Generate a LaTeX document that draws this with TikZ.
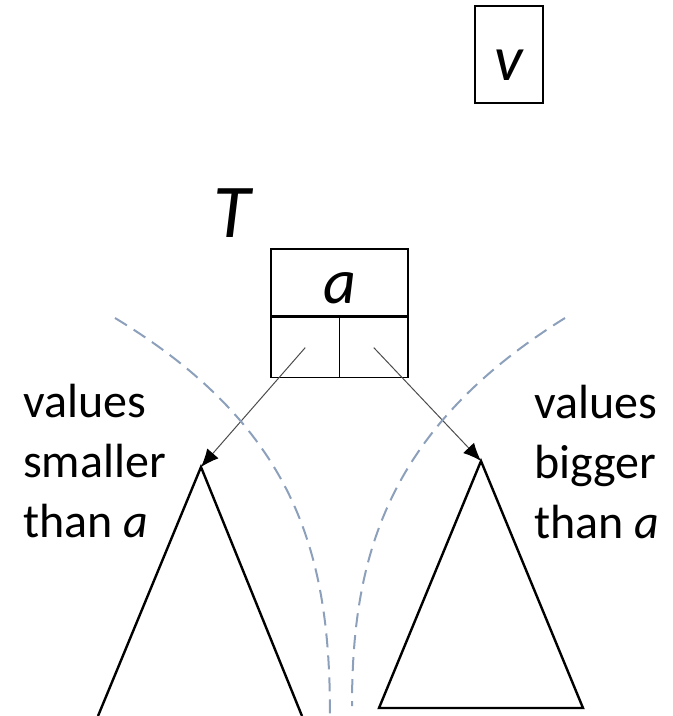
\documentclass[tikz,border=0pt]{standalone}
\usepackage{fontspec}
\setmainfont{Carlito}
\usetikzlibrary{positioning, arrows.meta}
\definecolor{sepgray}{RGB}{140,160,188}

\begin{document}
\begin{tikzpicture}[x=1pt, y=-1pt, font=\fontsize{48}{60}\selectfont,
        cell/.style={draw, line width=1.6pt, inner sep=0pt},
        link/.style={draw=black!70, line width=1pt, -{Latex[length=18pt, width=15pt, color=black]}},
        subtree/.style={draw, line width=2.4pt},
        split/.style={draw=sepgray, line width=2pt, dash pattern=on 14pt off 8pt}]
        \useasboundingbox (0,0) rectangle (673,716);

        % new value and the tree
        \node[cell, minimum width=68, minimum height=97, text height=51pt, text depth=0pt,
              font=\fontsize{64}{64}\selectfont] (v) at (509,54.5) {\textit{v}};
        \node[font=\fontsize{76}{76}\selectfont, anchor=base] (T) at (234,237) {\textit{T}};

        % root with its two child pointers
        \node[cell, minimum width=137, minimum height=67, text height=41pt, text depth=0pt,
              font=\fontsize{64}{64}\selectfont] (a) at (339.5,282.5) {\textit{a}};
        \node[cell, minimum width=68.5, minimum height=60, anchor=north west] (al) at (a.south west) {};
        \node[cell, minimum width=68.5, minimum height=60, anchor=north east] (ar) at (a.south east) {};

        % subtrees
        \coordinate (ltop) at (201,467);
        \coordinate (rtop) at (481,461);
        \draw[subtree] (98,716) -- (ltop) -- (302,716);
        \draw[subtree] (rtop) -- (379,708) -- (583,708) -- cycle;

        \path[link] (al.center) -- (ltop);
        \path[link] (ar.center) -- (rtop);

        % borders between the ranges
        \draw[split] (115,318) .. controls (300,430) and (330,560) .. (330,716);
        \draw[split] (565,318) .. controls (385,430) and (352,560) .. (352,706);

        \node[align=left, anchor=base west, inner sep=0pt] (small) at (23,537) {values\\smaller\\than \textit{a}};
        \node[align=left, anchor=base west, inner sep=0pt] (big) at (534,538) {values\\bigger\\than \textit{a}};
\end{tikzpicture}
\end{document}
